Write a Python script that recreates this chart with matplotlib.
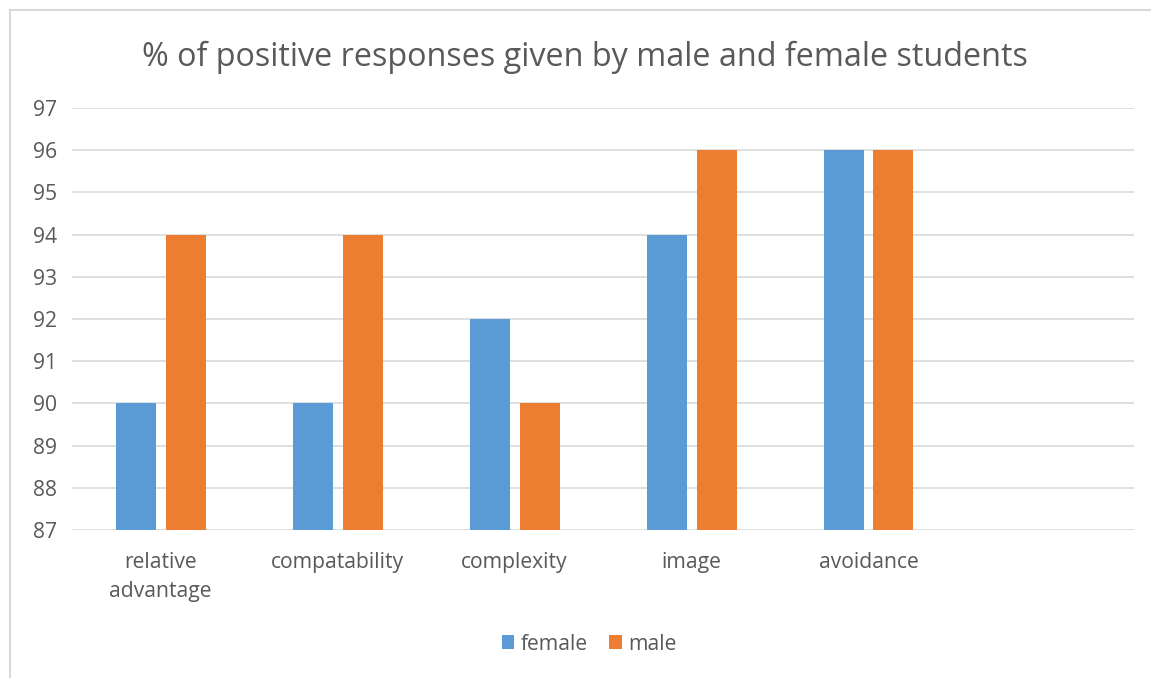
import matplotlib
matplotlib.use("Agg")
import matplotlib.pyplot as plt
import numpy as np

categories = ["relative\nadvantage", "compatability", "complexity", "image", "avoidance"]
female = [90, 90, 92, 94, 96]
male = [94, 94, 90, 96, 96]
yticks = [87, 88, 89, 90, 91, 92, 93, 94, 95, 96, 97]

BLUE = "#5B9BD5"
ORANGE = "#ED7D31"
TEXT = "#595959"
GRID = "#D9D9D9"

plt.rcParams["font.family"] = ["Open Sans", "DejaVu Sans"]

fig = plt.figure(figsize=(11.51, 6.78), dpi=100)
fig.set_facecolor("white")

# chart border (only top/left visible in the reference crop)
fig.add_artist(plt.Line2D([9.5 / 1151, 9.5 / 1151], [0, 1 - 9.5 / 678],
                          color="#D9D9D9", lw=1.5, transform=fig.transFigure))
fig.add_artist(plt.Line2D([9.5 / 1151, 1], [1 - 9.5 / 678, 1 - 9.5 / 678],
                          color="#D9D9D9", lw=1.5, transform=fig.transFigure))

ax = fig.add_axes([72 / 1151, 1 - 530 / 678, (1134 - 72) / 1151, (530 - 108) / 678])

x = np.arange(len(categories))
w = 40 / 177
off = 25 / 177
ax.bar(x - off, np.array(female) - 87, w, bottom=87, color=BLUE, label="female", zorder=3)
ax.bar(x + off, np.array(male) - 87, w, bottom=87, color=ORANGE, label="male", zorder=3)

ax.set_xlim(-0.5, 5.5)
ax.set_ylim(87, 97)
ax.set_yticks(yticks)
ax.set_xticks(x)
ax.set_xticklabels(categories, linespacing=1.55)
ax.tick_params(axis="both", length=0, labelsize=15.2, colors=TEXT)
ax.tick_params(axis="y", pad=11)
ax.tick_params(axis="x", pad=15.5)
ax.yaxis.grid(True, color=GRID, lw=1.2, zorder=0)
for s in ax.spines.values():
    s.set_visible(False)

fig.text(585 / 1151, 1 - 57 / 678, "% of positive responses given by male and female students",
         ha="center", va="center", fontsize=23.3, color=TEXT)

leg = fig.legend(loc="center", bbox_to_anchor=(589 / 1151, 1 - 644 / 678), ncol=2,
                 frameon=False, fontsize=15.2, handlelength=0.6, handleheight=0.6,
                 handletextpad=0.3, columnspacing=1.0, labelcolor=TEXT)

fig.savefig("out.png", dpi=100, facecolor="white")
